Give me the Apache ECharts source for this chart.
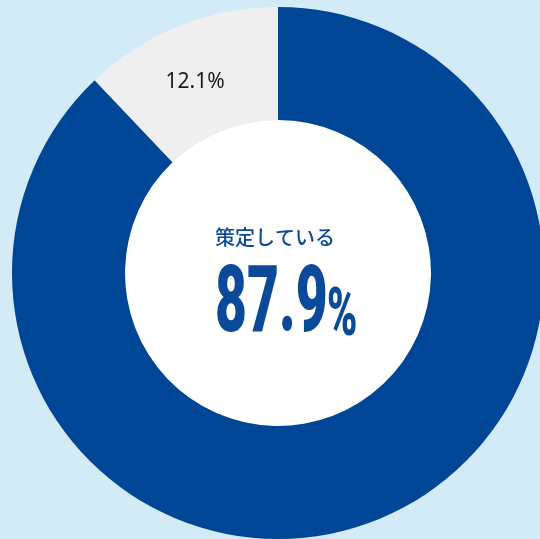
<!DOCTYPE html>
<html>
<head>
<meta charset="utf-8">
<style>
  html, body { margin: 0; padding: 0; background: #d3eaf7; }
  #chart { width: 540px; height: 539px; }
</style>
<script src="https://cdn.jsdelivr.net/npm/echarts@6/dist/echarts.min.js"></script>
</head>
<body>
<div id="chart"></div>
<script>
// Share of respondents, in percent
const categories = ['策定している', '策定していない'];
const values = [87.9, 12.1];
const sliceColors = ['#004696', '#efefef'];

const CX = 278, CY = 273;
const R_IN = 153, R_OUT = 266;
const BLUE = '#0a4a98';

const chart = echarts.init(document.getElementById('chart'), null, { renderer: 'canvas' });

const mainValue = values[0].toFixed(1);

chart.setOption({
  backgroundColor: '#d3eaf7',
  animation: false,
  series: [
    {
      type: 'pie',
      center: [CX, CY],
      radius: [R_IN, R_OUT],
      startAngle: 90,
      clockwise: true,
      silent: true,
      avoidLabelOverlap: false,
      labelLine: { show: false },
      data: categories.map((name, i) => ({
        name,
        value: values[i],
        itemStyle: { color: sliceColors[i] },
        label: i === 0
          ? { show: false }
          : {
              show: true,
              position: 'inside',
              formatter: p => p.value.toFixed(1) + '%',
              color: '#1a1a1a',
              fontSize: 21,
              fontFamily: 'Noto Sans',
              offset: [-4, 6]
            }
      }))
    },
    {
      // white disc filling the hole of the ring
      type: 'pie',
      center: [CX, CY],
      radius: [0, R_IN],
      silent: true,
      z: 1,
      label: { show: false },
      labelLine: { show: false },
      data: [{ value: 1, itemStyle: { color: '#ffffff' } }]
    }
  ],
  graphic: {
    elements: [
      {
        type: 'text',
        z: 100,
        x: CX - 3,
        y: CY - 36,
        style: {
          text: categories[0],
          font: '500 20px "Noto Sans CJK JP"',
          fill: BLUE,
          align: 'center',
          verticalAlign: 'middle'
        }
      },
      {
        type: 'text',
        z: 100,
        x: 215,
        y: 308,
        scaleX: 0.6,
        style: {
          text: mainValue,
          font: '900 92px Roboto',
          fill: BLUE,
          align: 'left',
          verticalAlign: 'middle'
        }
      },
      {
        type: 'text',
        z: 100,
        x: 327,
        y: 318,
        scaleX: 0.62,
        style: {
          text: '%',
          font: '900 66px Roboto',
          fill: BLUE,
          align: 'left',
          verticalAlign: 'middle'
        }
      }
    ]
  }
});
</script>
</body>
</html>
